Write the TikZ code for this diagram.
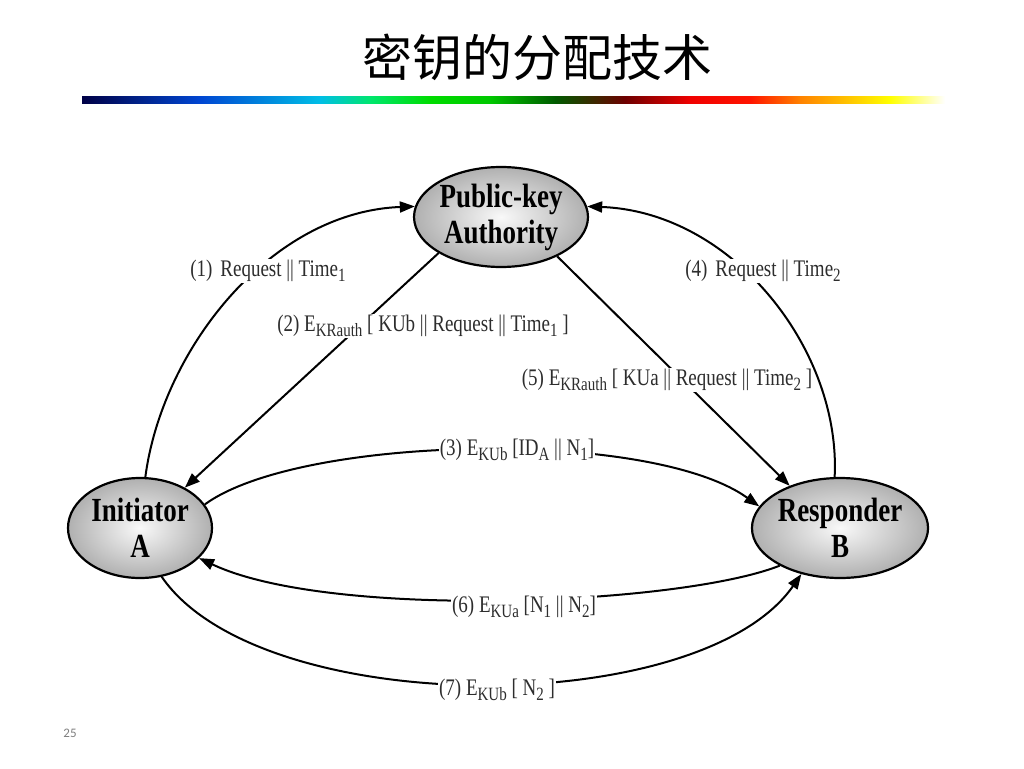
\documentclass[tikz,border=0pt]{standalone}
\usepackage{fontspec}
\usepackage{graphicx}
\setmainfont{Liberation Serif}
\newfontfamily\cjk{Noto Sans CJK SC}
\newfontfamily\carl{Carlito}
\usetikzlibrary{shapes.geometric,arrows.meta}
\newcommand\lsub[1]{\raisebox{-0.45ex}{\fontsize{15}{15}\selectfont #1}}
\newcommand\tall[1]{\scalebox{1}[1.25]{#1}}
\definecolor{g1}{RGB}{0,0,70}
\definecolor{g2}{RGB}{0,70,210}
\definecolor{g3}{RGB}{0,190,230}
\definecolor{g4}{RGB}{0,230,110}
\definecolor{g5}{RGB}{0,220,0}
\definecolor{g6}{RGB}{0,200,0}
\definecolor{g7}{RGB}{0,90,0}
\definecolor{g8}{RGB}{110,0,0}
\definecolor{g9}{RGB}{240,0,0}
\definecolor{g10}{RGB}{255,20,0}
\definecolor{g11}{RGB}{255,130,0}
\definecolor{g12}{RGB}{255,255,0}
\definecolor{lbl}{RGB}{45,45,45}
\tikzset{
  party/.style={ellipse, draw=black, line width=2.2pt, inner sep=0pt,
    shading=radial, inner color=gray!5, outer color=gray!62,
    font=\fontsize{27}{36}\selectfont\bfseries, align=center},
  msg/.style={fill=white, inner sep=1pt, text=lbl, font=\fontsize{19}{19}\selectfont},
  flow/.style={line width=2pt, -{Triangle[length=15pt,width=11pt]}},
}
\begin{document}
\begin{tikzpicture}[x=1pt,y=-1pt]
\fill[white] (0,0) rectangle (1024,768);
\useasboundingbox (0,0) rectangle (1024,768);
% title
\node (title) at (537,57) {\cjk\fontsize{50}{50}\selectfont 密钥的分配技术};
% gradient bar
\shade[left color=g1,right color=g2] (82,96) rectangle (200.5,103);
\shade[left color=g2,right color=g3] (200,96) rectangle (320.5,103);
\shade[left color=g3,right color=g4] (320,96) rectangle (370.5,103);
\shade[left color=g4,right color=g5] (370,96) rectangle (430.5,103);
\shade[left color=g5,right color=g6] (430,96) rectangle (490.5,103);
\shade[left color=g6,right color=g7] (490,96) rectangle (555.5,103);
\shade[left color=g7,right color=g8] (555,96) rectangle (625.5,103);
\shade[left color=g8,right color=g9] (625,96) rectangle (690.5,103);
\shade[left color=g9,right color=g10] (690,96) rectangle (750.5,103);
\shade[left color=g10,right color=g11] (750,96) rectangle (800.5,103);
\shade[left color=g11,right color=g12] (800,96) rectangle (890.5,103);
\shade[left color=g12,right color=white] (890,96) rectangle (945,103);
% nodes
\node[party, minimum width=166pt, minimum height=100pt] (P) at (501,217) {\tall{Public-key}\\\tall{Authority}};
\node[party, minimum width=144pt, minimum height=100pt] (A) at (140,528) {\tall{Initiator}\\\tall{A}};
\node[party, minimum width=144pt, minimum height=100pt] (B) at (840,528) {\tall{Responder}\\\tall{B}};
% connectors
\draw[flow] (A.84) .. controls (162,350) and (270,212) .. (P.173);
\draw[flow] (B.96) .. controls (841,350) and (733,212) .. (P.7);
\draw[flow] (P.210) -- (A.42);
\draw[flow] (P.325) -- (B.140);
\draw[flow] (A.20) .. controls (300,435) and (650,428) .. (B.165);
\draw[flow] (B.212) .. controls (680,605) and (330,620) .. (A.333);
\draw[flow] (A.294) .. controls (260,720) and (700,720) .. (B.230);
% labels
\node[msg] (m1) at (268,271) {\tall{(1)\, Request || Time\lsub{1}}};
\node[msg] (m4) at (763,271) {\tall{(4)\, Request || Time\lsub{2}}};
\node[msg] (m2) at (423,326) {\tall{(2) E\lsub{KRauth} [ KUb || Request || Time\lsub{1} ]}};
\node[msg] (m5) at (667,380) {\tall{(5) E\lsub{KRauth} [ KUa || Request || Time\lsub{2} ]}};
\node[msg] (m3) at (517,450) {\tall{(3) E\lsub{KUb} [ID\lsub{A} || N\lsub{1}]}};
\node[msg] (m6) at (524,607) {\tall{(6) E\lsub{KUa} [N\lsub{1} || N\lsub{2}]}};
\node[msg] (m7) at (497,690) {\tall{(7) E\lsub{KUb} [ N\lsub{2} ]}};
% page number
\node[text=gray, font=\carl\fontsize{13}{13}\selectfont] (pn) at (70,733) {25};
\end{tikzpicture}
\end{document}
